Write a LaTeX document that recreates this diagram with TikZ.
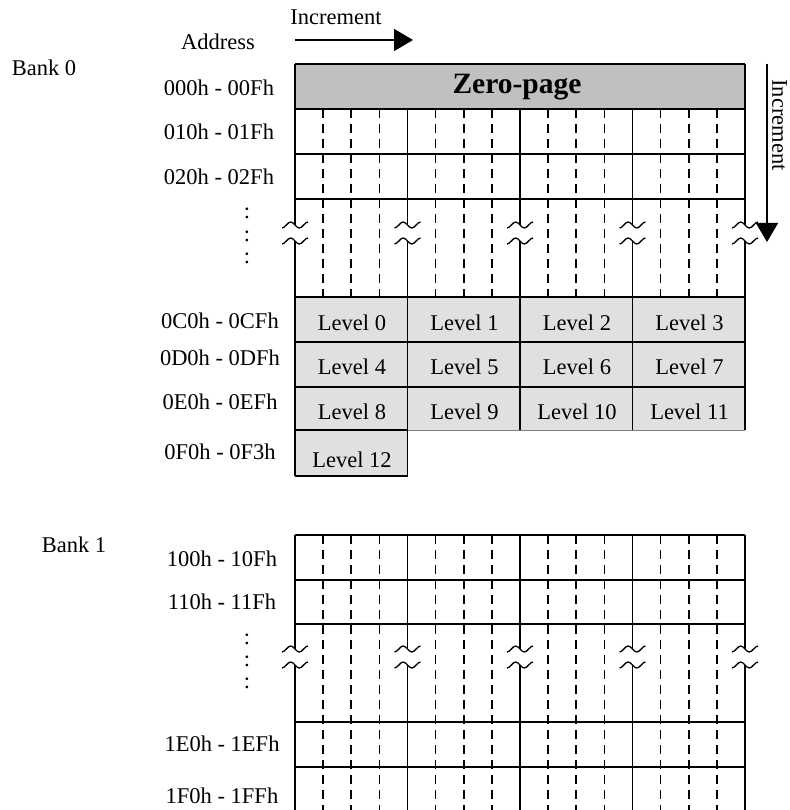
\documentclass[tikz,border=0pt]{standalone}
\usepackage{fontspec}
\setmainfont{Liberation Serif}
\usetikzlibrary{arrows.meta}

\definecolor{zpgray}{RGB}{192,192,192}
\definecolor{lvlgray}{RGB}{224,224,224}

\tikzset{
  lbl/.style={font=\fontsize{22.5}{26}\selectfont, inner sep=0pt},
  zptext/.style={font=\bfseries\fontsize{29.5}{32}\selectfont, inner sep=0pt},
  grid/.style={line width=1.6pt},
  dashline/.style={line width=1.6pt, dash pattern=on 9pt off 6pt},
  brk/.style={line width=1.3pt},
  incr/.style={line width=1.5pt, -{Triangle[length=19pt,width=22pt]}},
}

% break mark on a column line: x, upper wave, lower wave, top, bottom
\newcommand{\brkline}[5]{
  \draw[grid] (#1,#4) -- (#1,#2);
  \draw[grid] (#1,#3) -- (#1,#5);
  \foreach \w in {#2,#3} {
    \draw[brk] (#1-13,\w+3) cos ++(4.33,-3) sin ++(4.33,-3) cos ++(4.33,3)
      sin ++(4.33,3) cos ++(4.33,-3) sin ++(4.33,-3);
  }
}

\begin{document}
\begin{tikzpicture}[x=1pt, y=-1pt]
  \useasboundingbox (0,0) rectangle (789,810);

  % Increment arrows
  \coordinate (hstart) at (295,40);
  \coordinate (hend) at (413,40);
  \node[lbl] (hinc) at (336,17) {Increment};
  \draw[incr] (hstart) -- (hend);
  \coordinate (vstart) at (767,64);
  \coordinate (vend) at (767,242);
  \draw[incr] (vstart) -- (vend);
  \node[lbl, rotate=-90] (vinc) at (779.5,125) {Increment};

  % Bank 0
  \node[lbl] (bank0) at (44,68) {Bank 0};
  \node[lbl] (addr) at (218,42) {Address};
  \fill[zpgray] (295,64) rectangle (745,109);
  \foreach \top/\bot in {297/342, 342/387, 387/430} {
    \fill[lvlgray] (295,\top) rectangle (745,\bot);
  }
  \fill[lvlgray] (295,430) rectangle (407.5,476);

  \foreach \y in {64,109,154,199,297,342,387} {
    \draw[grid] (295,\y) -- (745,\y);
  }
  \draw[grid] (295,430) -- (407.5,430);
  \draw[line width=0.8pt, gray] (407.5,430) -- (745,430);
  \draw[grid] (295,476) -- (407.5,476);

  \foreach \c in {0,...,3} {
    \foreach \j in {1,2,3} {
      \draw[dashline] ({295+112.5*\c+28.125*\j},109) -- ++(0,188);
    }
  }

  \brkline{295}{225}{241}{64}{476}
  \brkline{407.5}{225}{241}{109}{476}
  \brkline{520}{225}{241}{109}{430}
  \brkline{632.5}{225}{241}{109}{430}
  \brkline{745}{225}{241}{64}{430}

  \node[zptext] (zp) at (517,87) {Zero-page};
  \foreach \r/\ty in {0/323, 1/367, 2/412} {
    \foreach \c in {0,...,3} {
      \pgfmathtruncatemacro\n{4*\r+\c}
      \node[lbl] (lvl\n) at ({352+112.5*\c},\ty) {Level \n};
    }
  }
  \node[lbl] (lvl12) at (352,460) {Level 12};

  \node[lbl] (a000) at (219,88) {000h - 00Fh};
  \node[lbl] (a010) at (219,132) {010h - 01Fh};
  \node[lbl] (a020) at (219,177) {020h - 02Fh};
  \foreach \y in {213,236,258} {
    \node[lbl] (dots0-\y) at (247,\y) {:};
  }
  \node[lbl] (a0C0) at (220,321) {0C0h - 0CFh};
  \node[lbl] (a0D0) at (220,358) {0D0h - 0DFh};
  \node[lbl] (a0E0) at (220,402) {0E0h - 0EFh};
  \node[lbl] (a0F0) at (220,452) {0F0h - 0F3h};

  % Bank 1
  \node[lbl] (bank1) at (74,545) {Bank 1};
  \foreach \y in {535,580,624,722,767} {
    \draw[grid] (295,\y) -- (745,\y);
  }
  \foreach \c in {0,...,3} {
    \foreach \j in {1,2,3} {
      \draw[dashline] ({295+112.5*\c+28.125*\j},535) -- ++(0,277);
    }
  }
  \foreach \x in {295,407.5,520,632.5,745} {
    \brkline{\x}{649}{665}{535}{812}
  }

  \node[lbl] (a100) at (222,559) {100h - 10Fh};
  \node[lbl] (a110) at (222,602) {110h - 11Fh};
  \foreach \y in {639,661,683} {
    \node[lbl] (dots1-\y) at (247,\y) {:};
  }
  \node[lbl] (a1E0) at (222,744) {1E0h - 1EFh};
  \node[lbl] (a1F0) at (222,796) {1F0h - 1FFh};
\end{tikzpicture}
\end{document}
